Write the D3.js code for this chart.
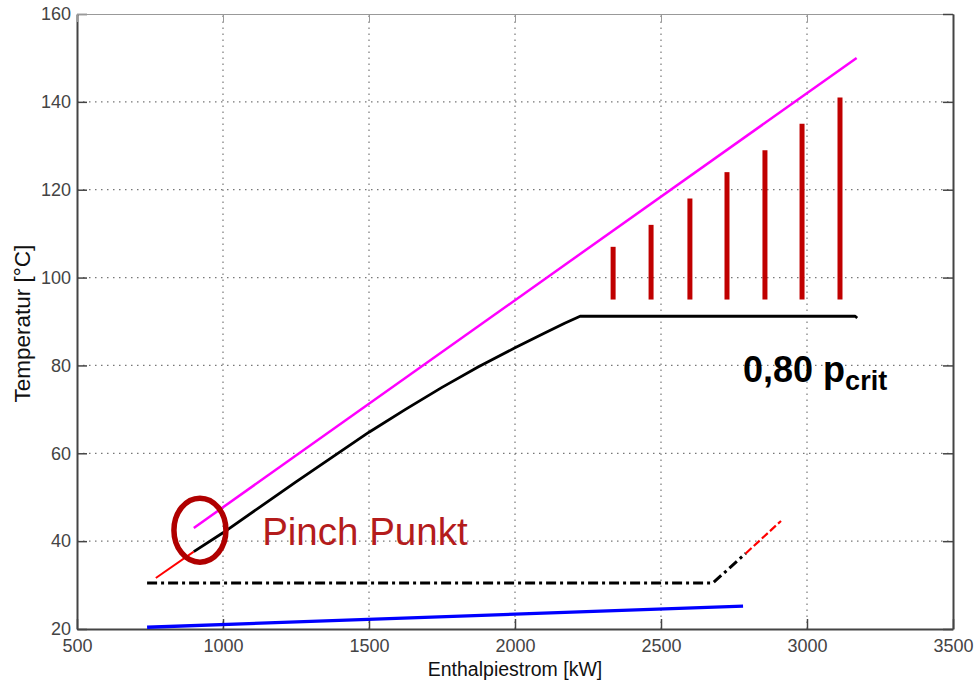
<!DOCTYPE html>
<html>
<head>
<meta charset="utf-8">
<script src="https://cdn.jsdelivr.net/npm/d3@7"></script>
<style>
  body { margin: 0; background: #fff; }
  svg { display: block; font-family: Arial, "Liberation Sans", sans-serif; }
  .tick text { fill: #444; font-size: 18px; }
</style>
</head>
<body>
<div id="chart"></div>
<script>
// ticks
var xTicks = [500, 1000, 1500, 2000, 2500, 3000, 3500];
var yTicks = [20, 40, 60, 80, 100, 120, 140, 160];

// hot stream (magenta)
var hotLine = [[900, 43], [3170, 150]];
// working fluid, evaporation at 0,80 p_crit (black)
var fluidLine = [[900, 37.6], [1000, 41.9], [1250, 53.5], [1500, 64.8], [1625, 70.0], [1750, 75.0],
                 [1875, 79.7], [2000, 84], [2100, 87.3], [2170, 89.6], [2223, 91.2], [3165, 91.2], [3172, 90.8]];
// preheating part (red, left)
var redLow = [[770, 31.6], [900, 37.6]];
// condensation (dash-dot) and red continuation
var condLine = [[740, 30.5], [2678, 30.5], [2790, 37.2]];
var redHigh = [[2790, 37.2], [2911, 44.6]];
// cooling water (blue)
var coolLine = [[740, 20.4], [2781, 25.2]];
// red bars
var barX = [2336, 2466, 2599, 2726, 2856, 2983, 3113];
var barTop = [107, 112, 118, 124, 129, 135, 141];
var barBase = 95;

var width = 978, height = 683;
var margin = {left: 77, top: 14, right: 25, bottom: 54};

var svg = d3.select("#chart").append("svg")
  .attr("width", width).attr("height", height);

var x = d3.scaleLinear().domain([500, 3500]).range([margin.left, width - margin.right]);
var y = d3.scaleLinear().domain([20, 160]).range([height - margin.bottom, margin.top]);

var x0 = x.range()[0], x1 = x.range()[1], y0 = y.range()[0], y1 = y.range()[1];

// dotted grid
var grid = svg.append("g").attr("stroke", "#777").attr("stroke-width", 1.2).attr("stroke-dasharray", "1.5,4.5");
grid.selectAll(".gx").data(xTicks.slice(1, -1)).enter().append("line")
  .attr("x1", d => x(d)).attr("x2", d => x(d)).attr("y1", y0).attr("y2", y1);
grid.selectAll(".gy").data(yTicks.slice(1, -1)).enter().append("line")
  .attr("y1", d => y(d)).attr("y2", d => y(d)).attr("x1", x0).attr("x2", x1);

// axes with inward ticks
var fmt = d3.format("d");
var xAxis = svg.append("g").attr("transform", "translate(0," + y0 + ")")
  .call(d3.axisBottom(x).tickValues(xTicks).tickFormat(fmt).tickSizeInner(-10).tickSizeOuter(0).tickPadding(8));
var yAxis = svg.append("g").attr("transform", "translate(" + x0 + ",0)")
  .call(d3.axisLeft(y).tickValues(yTicks).tickFormat(fmt).tickSizeInner(-10).tickSizeOuter(0).tickPadding(6));
var xTop = svg.append("g").attr("transform", "translate(0," + y1 + ")")
  .call(d3.axisTop(x).tickValues(xTicks).tickSizeInner(-8).tickSizeOuter(0).tickFormat(""));
var yRight = svg.append("g").attr("transform", "translate(" + x1 + ",0)")
  .call(d3.axisRight(y).tickValues(yTicks).tickSizeInner(-10).tickSizeOuter(0).tickFormat(""));

[xAxis, yAxis, yRight].forEach(function(a) {
  a.select(".domain").attr("stroke", "#444").attr("stroke-width", 2);
  a.selectAll(".tick line").attr("stroke", "#444").attr("stroke-width", 1.5);
});
xTop.select(".domain").attr("stroke", "#999").attr("stroke-width", 1);
xTop.selectAll(".tick line").attr("stroke", "#999");
xAxis.selectAll(".tick text").attr("dy", "0.85em");

// axis labels
svg.append("text").attr("x", x(2000)).attr("y", 676)
  .attr("text-anchor", "middle").attr("font-size", 19.5).attr("fill", "#111")
  .text("Enthalpiestrom [kW]");
svg.append("text").attr("transform", "translate(30," + y(89.5) + ") rotate(-90)")
  .attr("text-anchor", "middle").attr("font-size", 22.5).attr("fill", "#111")
  .text("Temperatur [°C]");

var line = d3.line().x(d => x(d[0])).y(d => y(d[1]));
var plot = svg.append("g").attr("fill", "none").attr("stroke-linejoin", "round");

plot.append("path").datum(coolLine).attr("d", line)
  .attr("stroke", "#0000ff").attr("stroke-width", 3.3);
plot.append("path").datum(condLine).attr("d", line)
  .attr("stroke", "#000").attr("stroke-width", 3).attr("stroke-dasharray", "10,4,3,4");
plot.append("path").datum(redHigh).attr("d", line)
  .attr("stroke", "#ff0000").attr("stroke-width", 2.2).attr("stroke-dasharray", "8,3");
plot.append("path").datum(redLow).attr("d", line)
  .attr("stroke", "#ff0000").attr("stroke-width", 2);
plot.append("path").datum(hotLine).attr("d", line)
  .attr("stroke", "#ff00ff").attr("stroke-width", 2.5);
plot.append("path").datum(fluidLine).attr("d", line)
  .attr("stroke", "#000").attr("stroke-width", 2.8);

// red bars
svg.append("g").selectAll("line").data(barX).enter().append("line")
  .attr("x1", d => x(d)).attr("x2", d => x(d))
  .attr("y1", y(barBase)).attr("y2", (d, i) => y(barTop[i]))
  .attr("stroke", "#c00000").attr("stroke-width", 5);

// pinch annotation
svg.append("ellipse").attr("cx", x(921)).attr("cy", y(42.5))
  .attr("rx", 26).attr("ry", 32)
  .attr("fill", "none").attr("stroke", "#b00000").attr("stroke-width", 5.5);
svg.append("text").attr("x", x(1134)).attr("y", y(39.1))
  .attr("font-size", 38.5).attr("fill", "#b41c1c").text("Pinch Punkt");

// pressure label
var lbl = svg.append("text").attr("x", x(2781)).attr("y", y(76.2))
  .attr("font-size", 36).attr("font-weight", "bold").attr("fill", "#000");
lbl.append("tspan").text("0,80 p");
lbl.append("tspan").attr("font-size", 27).attr("dy", 8).text("crit");
</script>
</body>
</html>
